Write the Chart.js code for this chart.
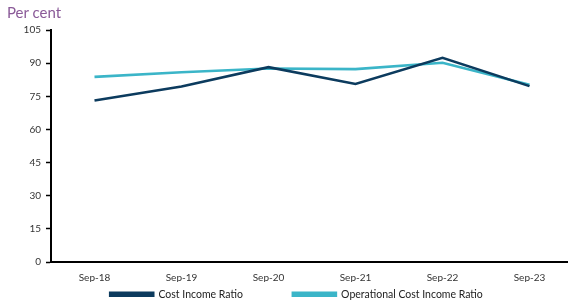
<!DOCTYPE html>
<html>
<head>
<meta charset="utf-8">
<script src="https://cdn.jsdelivr.net/npm/chart.js@4/dist/chart.umd.min.js"></script>
<style>
  html, body { margin: 0; padding: 0; background: #fff; overflow: hidden; }
  #wrap { position: relative; width: 576px; height: 302px; }
  #unit { position: absolute; left: 7px; top: 3px; font-family: Lato, sans-serif; font-size: 15px; color: #8a5a98; }
</style>
</head>
<body>
<div id="wrap">
  <div id="unit">Per cent</div>
  <canvas id="c" width="576" height="302"></canvas>
</div>
<script>
const categories = ['Sep-18', 'Sep-19', 'Sep-20', 'Sep-21', 'Sep-22', 'Sep-23'];
const costIncomeRatio = [73.1, 79.4, 88.2, 80.6, 92.4, 79.6];
const operationalCostIncomeRatio = [83.8, 85.9, 87.6, 87.3, 90.2, 80.2];
const yTicks = [0, 15, 30, 45, 60, 75, 90, 105];

const tickFont = { family: 'Lato, sans-serif', size: 10 };
const LEGEND_GAP = 50;

// Keep the legend compact while using wide horizontal spacing between items
const legendTweak = {
  id: 'legendTweak',
  afterInit(chart) {
    const lg = chart.legend;
    if (!lg || lg._tweaked) return;
    lg._tweaked = true;
    const fit = lg.fit.bind(lg);
    lg.fit = function () { fit(); this.height = 20; };
    const draw = lg.draw.bind(lg);
    lg.draw = function () {
      const t = this.top, l = this.left, r = this.right;
      this.top = t + 7 - LEGEND_GAP;
      this.left = l + 10; this.right = r + 10;
      draw();
      this.top = t; this.left = l; this.right = r;
    };
  }
};

new Chart(document.getElementById('c'), {
  type: 'line',
  data: {
    labels: categories,
    datasets: [
      { label: 'Cost Income Ratio', data: costIncomeRatio, borderColor: '#0c3b5e', backgroundColor: '#0c3b5e', borderWidth: 2.6, pointRadius: 0, tension: 0 },
      { label: 'Operational Cost Income Ratio', data: operationalCostIncomeRatio, borderColor: '#3bb5c8', backgroundColor: '#3bb5c8', borderWidth: 2.6, pointRadius: 0, tension: 0 }
    ]
  },
  plugins: [legendTweak],
  options: {
    responsive: false,
    animation: false,
    layout: { padding: { top: 30, right: 3, left: 0, bottom: 0 } },
    plugins: {
      legend: {
        position: 'bottom',
        labels: { boxWidth: 43, boxHeight: 3, padding: LEGEND_GAP, color: '#222', font: { family: 'Lato, sans-serif', size: 10.5 } }
      },
      tooltip: { enabled: false }
    },
    scales: {
      x: {
        offset: true,
        afterFit: (s) => { s.height = 20; },
        grid: { display: false, drawTicks: false },
        border: { color: '#000', width: 2 },
        ticks: { color: '#333', font: tickFont, padding: 10, maxRotation: 0 }
      },
      y: {
        min: 0, max: 105,
        afterBuildTicks: (s) => { s.ticks = yTicks.map(v => ({ value: v })); },
        afterFit: (s) => { s.width = 51; },
        grid: { drawOnChartArea: false, tickLength: 5, color: '#000', tickWidth: 1.5 },
        border: { color: '#000', width: 2 },
        ticks: { color: '#333', font: tickFont, padding: 5 }
      }
    }
  }
});
</script>
</body>
</html>
